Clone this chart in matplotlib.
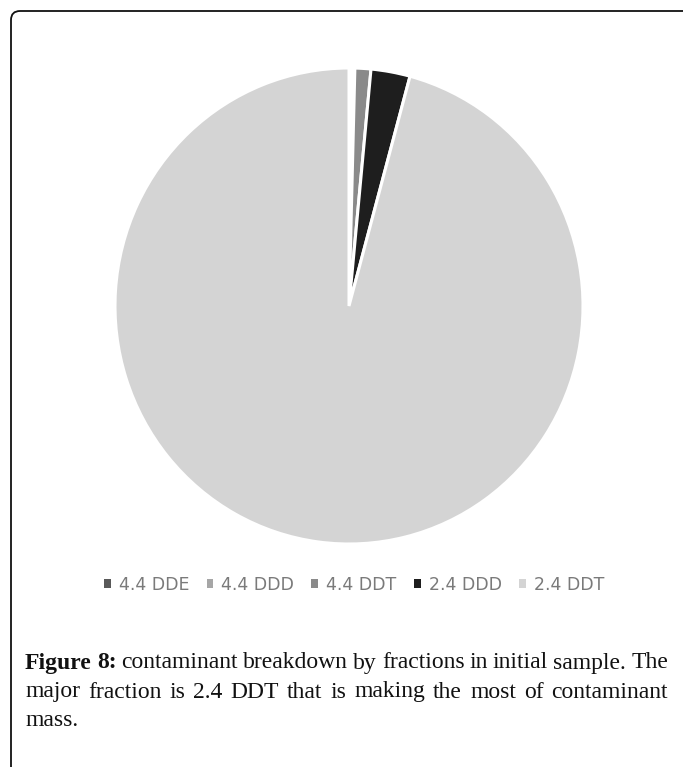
import matplotlib
matplotlib.use('Agg')
import matplotlib.pyplot as plt
from matplotlib.patches import FancyBboxPatch

# contaminant fractions (percent of mass)
labels = ['4.4 DDE', '4.4 DDD', '4.4 DDT', '2.4 DDD', '2.4 DDT']
fractions = [0.2, 0.2, 1.1, 2.7, 95.8]
colors = ['#595959', '#a6a6a6', '#8a8a8a', '#1e1e1e', '#d4d4d4']

caption_lines = [
	'contaminant breakdown by fractions in initial sample. The',
	'major fraction is 2.4 DDT that is making the most of contaminant',
	'mass.',
]

W, H = 683, 767
fig = plt.figure(figsize=(W / 100, H / 100), dpi=100)

# frame round the figure (only top-left corner visible)
frame = FancyBboxPatch((11, -30), 720, H - 11 + 30, boxstyle='round,pad=0,rounding_size=9',
	transform=None, fill=False, edgecolor='#111111', linewidth=1.3)
fig.patches.append(frame)

# pie (picture is slightly squashed, so the axes is not square)
cx, cy, rx, ry = 349, 306, 234, 238
ax = fig.add_axes([(cx - rx) / W, (H - cy - ry) / H, 2 * rx / W, 2 * ry / H])
wedges, _ = ax.pie(fractions, colors=colors, startangle=90, counterclock=False,
	wedgeprops=dict(edgecolor='white', linewidth=2.2))
ax.set_xlim(-1, 1)
ax.set_ylim(-1, 1)
ax.set_aspect('auto')
ax.axis('off')

leg = fig.legend(wedges, labels, loc='center', bbox_to_anchor=(354 / W, 1 - 585 / H),
	ncol=5, frameon=False, fontsize=12.5, handlelength=0.4, handleheight=0.4,
	handletextpad=0.45, columnspacing=1.0, labelcolor='#7a7a7a')
for h in leg.legend_handles:
	h.set_edgecolor('none')

# caption, justified by hand
fs = 17
x0, x1 = 25, 668
ys = [663, 692, 721]
renderer = fig.canvas.get_renderer()

def word_width(word, bold=False):
	t = fig.text(0, 0, word, fontsize=fs, family='Liberation Serif',
		fontweight='bold' if bold else 'normal')
	w = t.get_window_extent(renderer).width
	t.remove()
	return w

for i, line in enumerate(caption_lines):
	words = [(w, False) for w in line.split(' ')]
	if i == 0:
		words = [('Figure', True), ('8:', True)] + words
	widths = [word_width(w, b) for w, b in words]
	if i < len(caption_lines) - 1:
		gap = (x1 - x0 - sum(widths)) / (len(words) - 1)
	else:
		gap = word_width('a b') - word_width('ab')
	x = x0
	for (w, b), ww in zip(words, widths):
		fig.text(x / W, 1 - ys[i] / H, w, fontsize=fs, family='Liberation Serif',
			fontweight='bold' if b else 'normal', va='center', ha='left', color='#111111')
		x += ww + gap

fig.savefig('out.png', dpi=100)
